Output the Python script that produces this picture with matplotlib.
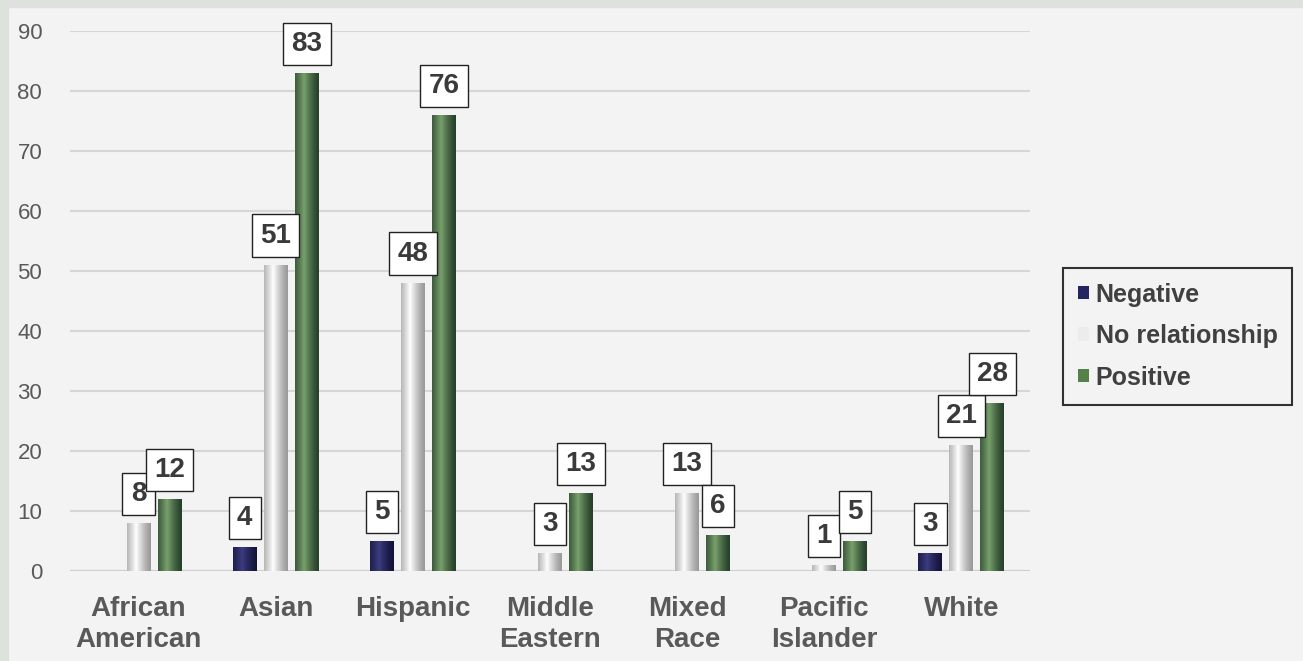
import numpy as np
import matplotlib
matplotlib.use("Agg")
import matplotlib.pyplot as plt
from matplotlib.colors import to_rgb
from matplotlib.patches import Rectangle

categories = ["African\nAmerican", "Asian", "Hispanic", "Middle\nEastern",
              "Mixed\nRace", "Pacific\nIslander", "White"]
series_names = ["Negative", "No relationship", "Positive"]
negative = [0, 4, 5, 0, 0, 0, 3]
no_relationship = [8, 51, 48, 3, 13, 1, 21]
positive = [12, 83, 76, 13, 6, 5, 28]
y_ticks = [0, 10, 20, 30, 40, 50, 60, 70, 80, 90]

COLORS = ["#24245e", "#ececec", "#55804a"]
EDGE_DARK = ["#121238", "#9a9a9a", "#26402a"]
HIGHLIGHT = ["#3c3c80", "#ffffff", "#78a06c"]

plt.rcParams["font.family"] = ["Liberation Sans", "DejaVu Sans"]


def shade_bar(ax, rect, light_c, dark_c):
    # fake cylinder: horizontal gradient dark-light-dark clipped to the bar
    x, w, h = rect.get_x(), rect.get_width(), rect.get_height()
    if h <= 0:
        return
    t = np.linspace(0, 1, 64)
    light = np.clip(1 - np.abs(t - 0.38) / 0.62, 0, 1) ** 1.3
    d, hi = np.array(to_rgb(dark_c)), np.array(to_rgb(light_c))
    cols = d[None, :] * (1 - light[:, None]) + hi[None, :] * light[:, None]
    ax.imshow(cols[None, :, :], extent=[x, x + w, 0, h], aspect="auto",
              zorder=3, interpolation="bilinear")


fig = plt.figure(figsize=(13.03, 6.61), dpi=100, facecolor="#f3f3f3")
# slide border strips
fig.patches.append(Rectangle((0, 0), 8 / 1303, 1, transform=fig.transFigure,
                             color="#dde2dc", zorder=0))
fig.patches.append(Rectangle((0, 1 - 7 / 661), 1, 7 / 661, transform=fig.transFigure,
                             color="#dde2dc", zorder=0))

ax = fig.add_axes([70 / 1303, 90 / 661, 960 / 1303, 540 / 661])
ax.set_facecolor("#f3f3f3")

x = np.arange(len(categories))
width = 0.175
step = 0.226
all_series = [negative, no_relationship, positive]

for i, (name, vals) in enumerate(zip(series_names, all_series)):
    pos = x + (i - 1) * step
    bars = ax.bar(pos, vals, width, color=COLORS[i], label=name, zorder=2)
    for rect, v in zip(bars, vals):
        if v == 0:
            continue
        shade_bar(ax, rect, HIGHLIGHT[i], EDGE_DARK[i])
        ax.annotate(str(v), (rect.get_x() + rect.get_width() / 2, v),
                    xytext=(0, 21), textcoords="offset points",
                    ha="center", va="center", fontsize=20, fontweight="bold",
                    color="#3a3a3a", zorder=5,
                    bbox=dict(boxstyle="square,pad=0.3", fc="white",
                              ec="#222222", lw=1))

ax.set_xlim(-0.5, len(categories) - 0.5)
ax.set_ylim(0, 90)
ax.set_yticks(y_ticks)
ax.set_yticklabels([str(t) for t in y_ticks], fontsize=16, color="#595959")
ax.set_xticks(x)
ax.set_xticklabels(categories, fontsize=20, fontweight="bold", color="#595959",
                   linespacing=1.25)
ax.tick_params(axis="both", length=0)
ax.tick_params(axis="y", pad=20)
ax.tick_params(axis="x", pad=18)
ax.grid(True, axis="y", color="#d6d6d6", lw=1.5, zorder=0)
ax.set_axisbelow(True)
for s in ax.spines.values():
    s.set_visible(False)
ax.axhline(0, color="#cfcfcf", lw=1.5, zorder=1)

leg = ax.legend(loc="center left", bbox_to_anchor=(993 / 960, 0.435),
                frameon=True, fancybox=False, fontsize=18,
                handlelength=0.45, handleheight=0.45, handletextpad=0.25,
                labelspacing=0.7, borderpad=0.6, borderaxespad=0)
leg.get_frame().set_edgecolor("black")
leg.get_frame().set_linewidth(1.5)
leg.get_frame().set_facecolor("#f3f3f3")
for txt in leg.get_texts():
    txt.set_fontweight("bold")
    txt.set_color("#404040")

fig.savefig("out.png", dpi=100, facecolor=fig.get_facecolor())
